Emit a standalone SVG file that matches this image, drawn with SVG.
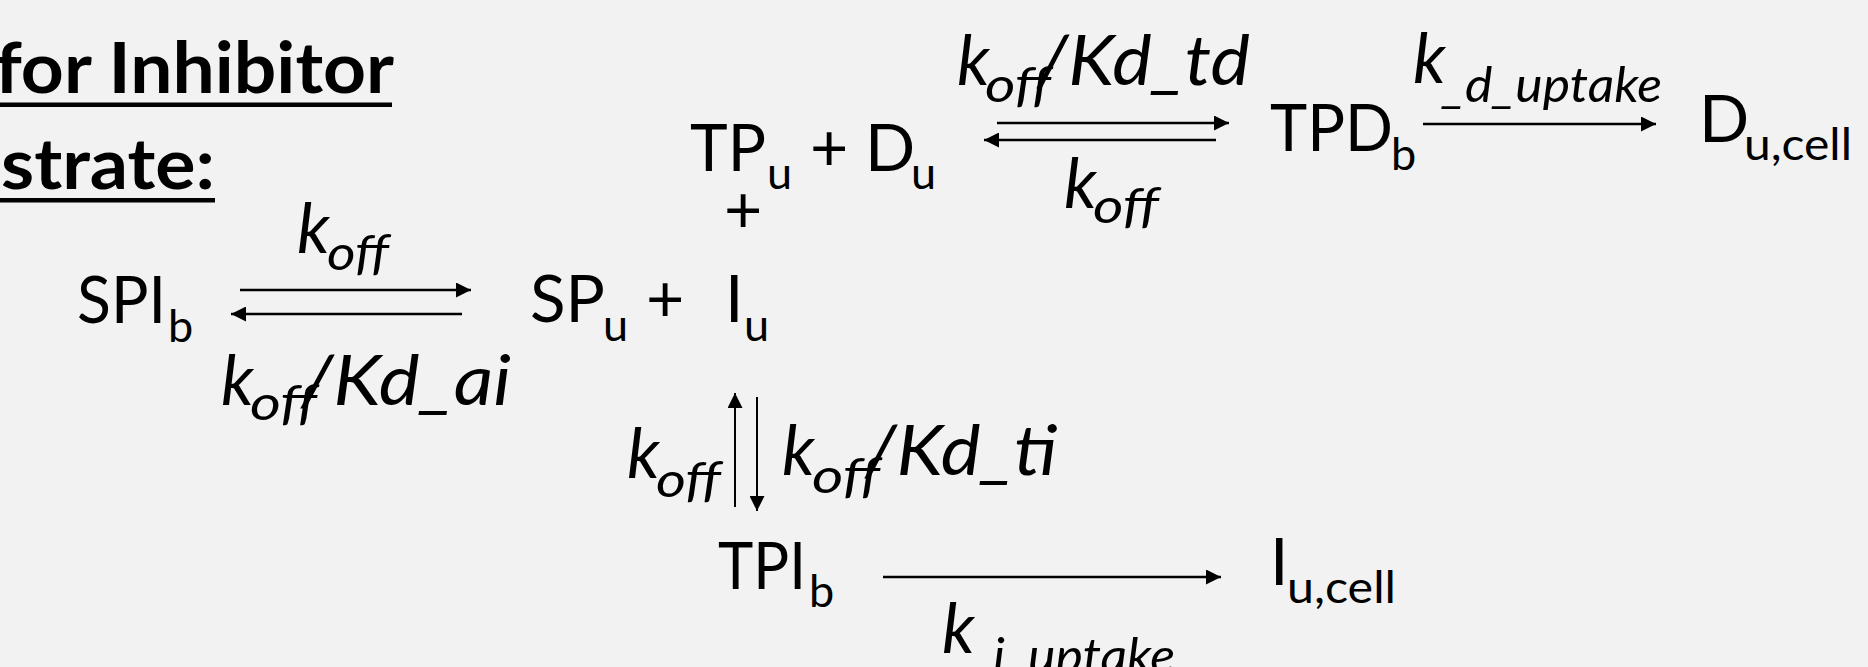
<svg xmlns="http://www.w3.org/2000/svg" width="1868" height="667" viewBox="0 0 1868 667">
<defs>
<style>
text{font-family:Lato,"Open Sans","Liberation Sans",sans-serif;fill:#000}
.r{font-size:66px}
.s{font-size:45px}
.i{font-style:italic;font-size:69px}
.is{font-style:italic;font-size:48px}
.t{font-weight:bold;font-size:71px}
.a{stroke:#000;stroke-width:2.5;fill:none;marker-end:url(#ah)}
.v{stroke:#000;stroke-width:2;fill:none;marker-end:url(#ah)}
</style>
<marker id="ah" viewBox="0 0 15 15" refX="15" refY="7.5" markerWidth="15" markerHeight="15" markerUnits="userSpaceOnUse" orient="auto">
<path d="M0,0 L15,7.5 L0,15 z" fill="#000"/>
</marker>
</defs>
<rect x="0" y="0" width="1868" height="667" fill="#f2f2f2"/>

<g id="title">
<text class="t" x="-5" y="93" textLength="399" lengthAdjust="spacingAndGlyphs">for Inhibitor</text>
<rect x="0" y="102.5" width="392" height="4.5" fill="#000"/>
<text class="t" x="1" y="189" textLength="214" lengthAdjust="spacingAndGlyphs">strate:</text>
<rect x="0" y="198" width="215" height="4.5" fill="#000"/>
</g>

<g id="SPIb">
<text class="r" x="77" y="323" textLength="89" lengthAdjust="spacingAndGlyphs">SPI</text>
<text class="s" x="168" y="342">b</text>
</g>

<g id="SPu_Iu">
<text class="r" x="530" y="322" textLength="75" lengthAdjust="spacingAndGlyphs">SP</text>
<text class="s" x="603" y="341">u</text>
<text class="r" x="646" y="322">+</text>
<text class="r" x="725" y="322">I</text>
<text class="s" x="744" y="341">u</text>
</g>

<g id="TPu_Du">
<text class="r" x="690" y="171" textLength="76" lengthAdjust="spacingAndGlyphs">TP</text>
<text class="s" x="767" y="189">u</text>
<text class="r" x="810" y="171">+</text>
<text class="r" x="865" y="171">D</text>
<text class="s" x="911" y="189">u</text>
<text class="r" x="724" y="233">+</text>
</g>

<g id="TPDb">
<text class="r" x="1270" y="151" textLength="123" lengthAdjust="spacingAndGlyphs">TPD</text>
<text class="s" x="1391" y="170">b</text>
</g>

<g id="Du_cell">
<text class="r" x="1699" y="142">D</text>
<text class="s" x="1744" y="160" textLength="108" lengthAdjust="spacingAndGlyphs">u,cell</text>
</g>

<g id="TPIb">
<text class="r" x="718" y="589" textLength="88" lengthAdjust="spacingAndGlyphs">TPI</text>
<text class="s" x="809" y="607">b</text>
</g>

<g id="Iu_cell">
<text class="r" x="1270" y="585">I</text>
<text class="s" x="1287" y="603" textLength="109" lengthAdjust="spacingAndGlyphs">u,cell</text>
</g>

<g id="connectors">
<line class="a" x1="240" y1="290" x2="471" y2="290"/>
<line class="a" x1="462" y1="314" x2="231" y2="314"/>
<line class="a" x1="997" y1="123" x2="1229" y2="123"/>
<line class="a" x1="1216" y1="140" x2="984" y2="140"/>
<line class="a" x1="1423" y1="124" x2="1656" y2="124"/>
<line class="v" x1="735" y1="507" x2="735" y2="393"/>
<line class="v" x1="757" y1="397" x2="757" y2="511"/>
<line class="a" x1="883" y1="577" x2="1221" y2="577"/>

<text class="i" x="297" y="253">k</text>
<text class="is" x="327" y="270" textLength="62" lengthAdjust="spacingAndGlyphs">off</text>

<text class="i" x="221" y="405">k</text>
<text class="is" x="250" y="420" textLength="67" lengthAdjust="spacingAndGlyphs">off</text>
<text class="i" x="301" y="405" textLength="210" lengthAdjust="spacingAndGlyphs">/Kd_ai</text>

<text class="i" x="957" y="85">k</text>
<text class="is" x="985" y="102" textLength="66" lengthAdjust="spacingAndGlyphs">off</text>
<text class="i" x="1037" y="85" textLength="213" lengthAdjust="spacingAndGlyphs">/Kd_td</text>

<text class="i" x="1064" y="208">k</text>
<text class="is" x="1093" y="223" textLength="66" lengthAdjust="spacingAndGlyphs">off</text>

<text class="i" x="1413" y="83">k</text>
<text class="is" x="1442" y="102" textLength="220" lengthAdjust="spacingAndGlyphs">_d_uptake</text>

<text class="i" x="627" y="478">k</text>
<text class="is" x="656" y="497" textLength="65" lengthAdjust="spacingAndGlyphs">off</text>

<text class="i" x="782" y="475">k</text>
<text class="is" x="812" y="493" textLength="68" lengthAdjust="spacingAndGlyphs">off</text>
<text class="i" x="865" y="475" textLength="192" lengthAdjust="spacingAndGlyphs">/Kd_ti</text>

<text class="i" x="942" y="653">k</text>
<text class="is" x="970" y="673" textLength="205" lengthAdjust="spacingAndGlyphs">_i_uptake</text>
</g>
</svg>
